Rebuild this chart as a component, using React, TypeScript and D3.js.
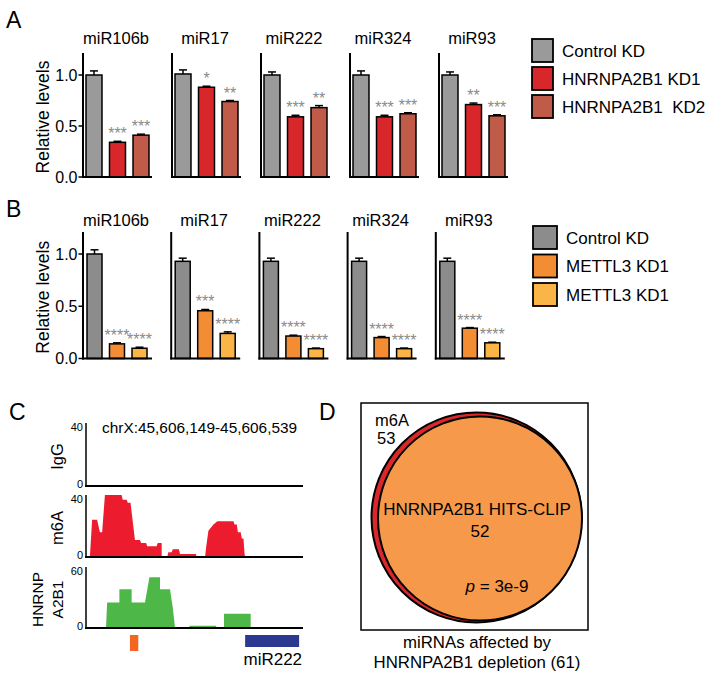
import React from 'react';
import * as d3 from 'd3';

// ---------- Data ----------
const mirnas = ['miR106b', 'miR17', 'miR222', 'miR324', 'miR93'];
const conds = ['c', 'k1', 'k2'];

const seriesA = ['Control KD', 'HNRNPA2B1 KD1', 'HNRNPA2B1  KD2'];
const colorsA = ['#9a9a9a', '#d8272a', '#c05a49'];
const valuesA = [
  [1.0, 0.34, 0.41],
  [1.01, 0.88, 0.74],
  [1.0, 0.59, 0.68],
  [1.0, 0.59, 0.62],
  [1.0, 0.71, 0.6],
];
const errorsA = [
  [0.04, 0.01, 0.01],
  [0.04, 0.01, 0.01],
  [0.03, 0.015, 0.02],
  [0.04, 0.015, 0.01],
  [0.03, 0.015, 0.01],
];
const starsA = [
  ['', '***', '***'],
  ['', '*', '**'],
  ['', '***', '**'],
  ['', '***', '***'],
  ['', '**', '***'],
];

const seriesB = ['Control KD', 'METTL3 KD1', 'METTL3 KD1'];
const colorsB = ['#8c8c8c', '#f28d33', '#fbb446'];
const valuesB = [
  [1.0, 0.14, 0.098],
  [0.93, 0.457, 0.24],
  [0.93, 0.215, 0.094],
  [0.93, 0.2, 0.094],
  [0.93, 0.29, 0.15],
];
const errorsB = [
  [0.04, 0.01, 0.01],
  [0.03, 0.012, 0.015],
  [0.03, 0.008, 0.006],
  [0.03, 0.01, 0.006],
  [0.03, 0.006, 0.006],
];
const starsB = [
  ['', '****', '****'],
  ['', '***', '****'],
  ['', '****', '****'],
  ['', '****', '****'],
  ['', '****', '****'],
];

const yTicks = [0, 0.5, 1.0];
const yTickLabels = ['0.0', '0.5', '1.0'];

// Panel C: coverage tracks (bp offset from 45,606,149 ; value)
const regionLabel = 'chrX:45,606,149-45,606,539';
const regionLength = 390;
const igg: [number, number][] = [];
const m6a: [number, number][] = [
  [7, 0], [11, 24], [20, 24], [25, 16], [29, 16], [34, 40], [64, 40], [66, 37], [73, 37],
  [75, 35], [80, 35], [88, 11], [97, 11], [99, 9], [108, 9], [110, 7], [127, 7], [129, 9],
  [136, 9], [136, 0], [146, 0], [148, 3], [154, 3], [156, 5], [167, 5], [169, 2], [198, 2],
  [198, 0], [214, 0], [216, 6.5], [220, 17], [229, 21], [236, 23], [265, 23], [267, 21],
  [271, 21], [273, 16], [278, 16], [280, 12], [283, 12], [285, 2], [286, 0],
];
const hnrnp: [number, number][] = [
  [18, 0], [18, 0.8], [36, 0.8], [38, 25], [60, 25], [60, 38], [82, 38], [82, 25], [106, 25],
  [114, 50], [133, 50], [133, 38], [151, 38], [156, 20], [160, 0], [186, 0], [186, 2.3],
  [234, 2.3], [234, 0], [248, 0], [248, 14], [296, 14], [296, 0],
];
const trackNames = ['IgG', 'm6A', 'HNRNP\nA2B1'];
const trackMax = [40, 40, 60];
const trackColors = ['#22aa22', '#ec1c2e', '#4db848'];
const features = [
  { start: 79, end: 94, label: '', color: '#f26522' },
  { start: 286, end: 383, label: 'miR222', color: '#2b3990' },
];

// Panel D: Venn
const vennSets = [
  { name: 'm6A', count: 53, color: '#d9282b' },
  { name: 'HNRNPA2B1 HITS-CLIP', count: 52, color: '#f7994b' },
];
const vennTotal = 61;
const vennP = '3e-9';

const FONT = '"Liberation Sans", Arial, Helvetica, sans-serif';

// ---------- Bar panel ----------
type BarPanelProps = {
  values: number[][];
  errors: number[][];
  stars: string[][];
  colors: string[];
  y0: number;
  y1: number;
  yTop: number;
  titleY: number;
  groupRange: [number, number];
  innerRange: [number, number];
  innerPad: number;
};

function BarPanel(p: BarPanelProps) {
  const y = d3.scaleLinear().domain([0, 1]).range([p.y0, p.y1]);
  const gx = d3.scaleBand<string>().domain(mirnas).range(p.groupRange).paddingInner(0);
  const ix = d3.scaleBand<string>().domain(conds).range(p.innerRange).paddingInner(p.innerPad).paddingOuter(0);
  const axisW = 69;
  return (
    <g>
      <text
        transform={`translate(43,${(p.y0 + p.yTop) / 2 + 2}) rotate(-90)`}
        textAnchor="middle"
        dy="0.35em"
        fontSize={17.5}
        fontFamily={FONT}
      >
        Relative levels
      </text>
      {yTicks.map((t, i) => (
        <g key={t}>
          <line x1={gx(mirnas[0])! - 4.5} x2={gx(mirnas[0])!} y1={y(t)} y2={y(t)} stroke="#000" strokeWidth={1.5} />
          <text
            x={gx(mirnas[0])! - 5.5}
            y={y(t)}
            dy="0.36em"
            textAnchor="end"
            fontSize={16}
            fontFamily={FONT}
          >
            {yTickLabels[i]}
          </text>
        </g>
      ))}
      {mirnas.map((m, gi) => {
        const ax = gx(m)!;
        return (
          <g key={m}>
            <text x={ax + 33} y={p.titleY} textAnchor="middle" fontSize={16.5} fontFamily={FONT}>
              {m}
            </text>
            {conds.map((c, ci) => {
              const v = p.values[gi][ci];
              const e = p.errors[gi][ci];
              const bx = ax + ix(c)!;
              const bw = ix.bandwidth();
              const cx = bx + bw / 2;
              return (
                <g key={c}>
                  <rect
                    x={bx}
                    y={y(v)}
                    width={bw}
                    height={y(0) - y(v)}
                    fill={p.colors[ci]}
                    stroke="#000"
                    strokeWidth={1.5}
                  />
                  <line x1={cx} x2={cx} y1={y(v)} y2={y(v + e)} stroke="#000" strokeWidth={1.5} />
                  <line x1={cx - 4} x2={cx + 4} y1={y(v + e)} y2={y(v + e)} stroke="#000" strokeWidth={1.5} />
                  {p.stars[gi][ci] && (
                    <text
                      x={cx}
                      y={y(v + e) - 2}
                      textAnchor="middle"
                      fontSize={16}
                      fill="#8a8a8a"
                      fontFamily={FONT}
                    >
                      {p.stars[gi][ci]}
                    </text>
                  )}
                </g>
              );
            })}
            <line x1={ax} x2={ax} y1={p.yTop} y2={y(0) + 1} stroke="#000" strokeWidth={2} />
            <line x1={ax - 1} x2={ax + axisW} y1={y(0)} y2={y(0)} stroke="#000" strokeWidth={2} />
          </g>
        );
      })}
    </g>
  );
}

function Legend({ names, colors, x, y, step, w, h }: { names: string[]; colors: string[]; x: number; y: number; step: number; w: number; h: number }) {
  return (
    <g>
      {names.map((n, i) => (
        <g key={i}>
          <rect x={x} y={y + i * step} width={w} height={h} fill={colors[i]} stroke="#000" strokeWidth={1.8} />
          <text
            x={x + w + 9}
            y={y + i * step + h / 2}
            dy="0.36em"
            fontSize={17}
            fontFamily={FONT}
            style={{ whiteSpace: 'pre' }}
          >
            {n}
          </text>
        </g>
      ))}
    </g>
  );
}

// ---------- Panel C ----------
function Tracks() {
  const x = d3.scaleLinear().domain([0, regionLength]).range([86, 303]);
  const tracks = [
    { data: igg, top: 423, bottom: 486 },
    { data: m6a, top: 495, bottom: 557 },
    { data: hnrnp, top: 567, bottom: 628 },
  ];
  return (
    <g fontFamily={FONT}>
      <text x={102} y={433} fontSize={15.4}>
        {regionLabel}
      </text>
      {tracks.map((t, i) => {
        const y = d3.scaleLinear().domain([0, trackMax[i]]).range([t.bottom, t.top]);
        const area = d3
          .area<[number, number]>()
          .x((d) => x(d[0]))
          .y0(y(0))
          .y1((d) => y(d[1]));
        const lines = trackNames[i].split('\n');
        return (
          <g key={i}>
            {t.data.length > 0 && <path d={area(t.data) || ''} fill={trackColors[i]} />}
            <line x1={86} x2={86} y1={t.top} y2={t.bottom} stroke="#000" strokeWidth={1.5} />
            <line x1={85} x2={303} y1={t.bottom} y2={t.bottom} stroke="#000" strokeWidth={2} />
            <text x={83} y={t.top + 4} dy="0.35em" textAnchor="end" fontSize={11}>
              {trackMax[i]}
            </text>
            <text x={83} y={t.bottom - 2} dy="0.35em" textAnchor="end" fontSize={11}>
              0
            </text>
            {lines.length === 1 ? (
              <text
                transform={`translate(57,${(t.top + t.bottom) / 2 + 2}) rotate(-90)`}
                textAnchor="middle"
                dy="0.35em"
                fontSize={16.5}
              >
                {lines[0]}
              </text>
            ) : (
              lines.map((l, li) => (
                <text
                  key={li}
                  transform={`translate(${38 + li * 20},${(t.top + t.bottom) / 2 + 2}) rotate(-90)`}
                  textAnchor="middle"
                  dy="0.35em"
                  fontSize={15.5}
                >
                  {l}
                </text>
              ))
            )}
          </g>
        );
      })}
      {features.map((f, i) => (
        <g key={i}>
          <rect
            x={x(f.start)}
            y={635}
            width={x(f.end) - x(f.start)}
            height={f.label ? 12 : 16}
            fill={f.color}
          />
          {f.label && (
            <text x={x(f.end) + 3} y={665} textAnchor="end" fontSize={17}>
              {f.label}
            </text>
          )}
        </g>
      ))}
    </g>
  );
}

// ---------- Panel D ----------
function Venn() {
  const r = d3.scaleSqrt().domain([0, 53]).range([0, 105]);
  const centers = [
    [476.5, 517.5],
    [480, 518.5],
  ];
  return (
    <g fontFamily={FONT}>
      <rect x={361} y={403} width={227} height={227} fill="none" stroke="#000" strokeWidth={1.5} />
      {vennSets.map((s, i) => (
        <circle
          key={s.name}
          cx={centers[i][0]}
          cy={centers[i][1]}
          r={r(s.count) - (i === 1 ? 2 : 0)}
          fill={s.color}
          stroke="#000"
          strokeWidth={2}
        />
      ))}
      <text x={375} y={426} fontSize={16.5}>
        {vennSets[0].name}
      </text>
      <text x={377} y={444} fontSize={16.5}>
        {vennSets[0].count}
      </text>
      <text x={477} y={515} fontSize={17} textAnchor="middle">
        {vennSets[1].name}
      </text>
      <text x={480} y={537} fontSize={17} textAnchor="middle">
        {vennSets[1].count}
      </text>
      <text x={497} y={592} fontSize={17} textAnchor="middle">
        <tspan fontStyle="italic">p</tspan> = {vennP}
      </text>
      <text x={477} y={648} fontSize={16.8} textAnchor="middle">
        miRNAs affected by
      </text>
      <text x={477} y={668} fontSize={16.8} textAnchor="middle">
        {`HNRNPA2B1 depletion (${vennTotal})`}
      </text>
    </g>
  );
}

export default function App() {
  return (
    <svg
      width={714}
      height={680}
      viewBox="0 0 714 680"
      style={{ position: 'absolute', left: 0, top: 0, background: '#fff' }}
      fontFamily={FONT}
    >
      <rect width={714} height={680} fill="#fff" />
      <text x={6} y={28} fontSize={23}>A</text>
      <text x={6} y={217} fontSize={23}>B</text>
      <text x={9} y={420} fontSize={23}>C</text>
      <text x={319} y={420} fontSize={23}>D</text>

      <BarPanel
        values={valuesA}
        errors={errorsA}
        stars={starsA}
        colors={colorsA}
        y0={177}
        y1={75}
        yTop={53}
        titleY={44}
        groupRange={[83, 528]}
        innerRange={[3, 66]}
        innerPad={0.32}
      />
      <Legend names={seriesA} colors={colorsA} x={532} y={39} step={28} w={21} h={23} />

      <BarPanel
        values={valuesB}
        errors={errorsB}
        stars={starsB}
        colors={colorsB}
        y0={358.5}
        y1={254}
        yTop={232}
        titleY={226}
        groupRange={[83, 524]}
        innerRange={[4, 64]}
        innerPad={0.333}
      />
      <Legend names={seriesB} colors={colorsB} x={533} y={226} step={28.5} w={24} h={23} />

      <Tracks />
      <Venn />
    </svg>
  );
}
